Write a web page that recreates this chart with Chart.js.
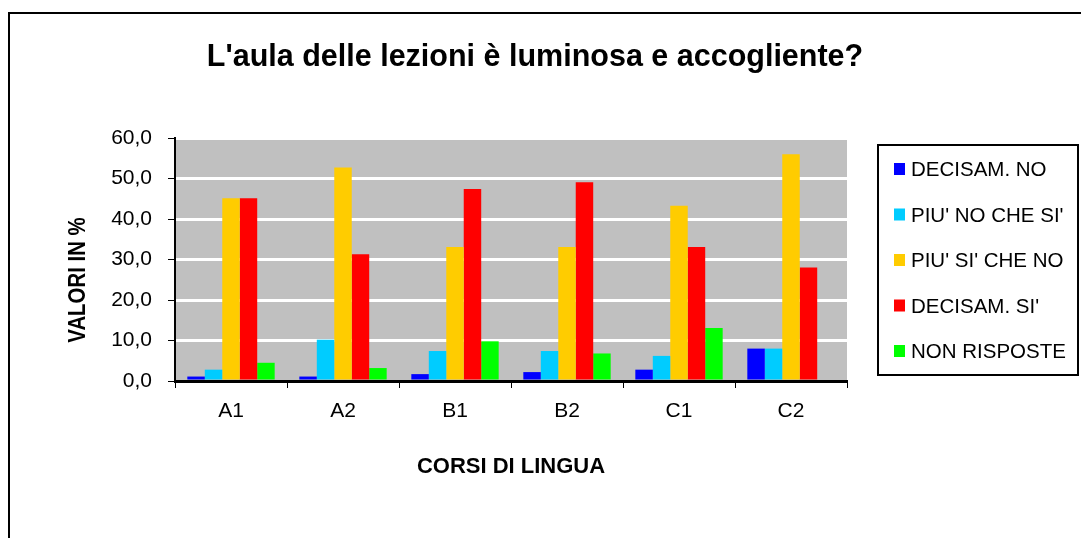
<!DOCTYPE html>
<html>
<head>
<meta charset="utf-8">
<script src="https://cdn.jsdelivr.net/npm/chart.js@4.4.0/dist/chart.umd.min.js"></script>
<style>
  html, body { margin: 0; padding: 0; background: #fff; }
  #wrap { width: 1081px; height: 538px; }
</style>
</head>
<body>
<div id="wrap"><canvas id="chart" width="1081" height="538"></canvas></div>
<script>
// data
const courses    = ['A1', 'A2', 'B1', 'B2', 'C1', 'C2'];
const decisamNo  = [1.1, 1.1, 1.7, 2.2, 2.8, 8.0];
const piuNoCheSi = [2.8, 10.2, 7.4, 7.4, 6.2, 8.0];
const piuSiCheNo = [45.1, 52.7, 33.1, 33.1, 43.3, 56.0];
const decisamSi  = [45.1, 31.3, 47.4, 49.1, 33.1, 28.0];
const nonRisp    = [4.5, 3.2, 9.8, 6.8, 13.1, 0];
const yTicks     = [0, 10, 20, 30, 40, 50, 60];

const FONT = "'Liberation Sans', Arial, sans-serif";

const series = [
  { label: 'DECISAM. NO',     data: decisamNo,  color: '#0000ff' },
  { label: "PIU' NO CHE SI'", data: piuNoCheSi, color: '#00ccff' },
  { label: "PIU' SI' CHE NO", data: piuSiCheNo, color: '#ffcc00' },
  { label: "DECISAM. SI'",    data: decisamSi,  color: '#ff0000' },
  { label: 'NON RISPOSTE',    data: nonRisp,    color: '#00ff00' },
];

// frame, grey plot, title, y title and boxed legend
const decor = {
  id: 'decor',
  beforeDraw(chart) {
    const { ctx, chartArea: a } = chart;
    ctx.save();
    ctx.fillStyle = '#fff';
    ctx.fillRect(0, 0, chart.width, chart.height);
    ctx.strokeStyle = '#000';
    ctx.lineWidth = 2;
    ctx.strokeRect(9, 13, 1200, 700);
    ctx.fillStyle = '#c0c0c0';
    ctx.fillRect(a.left, a.top, a.right - a.left, a.bottom - a.top);
    ctx.restore();
  },
  afterDraw(chart) {
    const { ctx } = chart;
    ctx.save();
    ctx.fillStyle = '#000';

    // title
    ctx.font = `bold 30.5px ${FONT}`;
    ctx.textBaseline = 'middle';
    ctx.textAlign = 'center';
    ctx.fillText("L'aula delle lezioni è luminosa e accogliente?", 535, 58);

    // y title
    ctx.save();
    ctx.translate(78, 280);
    ctx.rotate(-Math.PI / 2);
    ctx.scale(0.85, 1);
    ctx.font = `bold 24px ${FONT}`;
    ctx.fillText('VALORI IN %', 0, 0);
    ctx.restore();

    // legend
    ctx.strokeStyle = '#000';
    ctx.lineWidth = 2;
    ctx.strokeRect(878, 145, 200, 230);
    ctx.font = `20.5px ${FONT}`;
    ctx.textAlign = 'left';
    series.forEach((s, i) => {
      const y = 169.5 + i * 45.5;
      ctx.fillStyle = s.color;
      ctx.fillRect(894, y - 6.5, 11, 12);
      ctx.fillStyle = '#000';
      ctx.fillText(s.label, 911, y + 1);
    });
    ctx.restore();
  }
};

new Chart(document.getElementById('chart'), {
  type: 'bar',
  data: {
    labels: courses,
    datasets: series.map(s => ({
      label: s.label,
      data: s.data,
      backgroundColor: s.color,
      borderWidth: 0,
      barPercentage: 1,
      categoryPercentage: 0.78,
    }))
  },
  options: {
    responsive: false,
    animation: false,
    layout: { padding: { left: 0, top: 138, right: 234, bottom: 0 } },
    plugins: {
      legend: { display: false },
      title: { display: false },
      tooltip: { enabled: false }
    },
    scales: {
      x: {
        afterFit: s => { s.height = 157; },
        grid: { drawOnChartArea: false, color: '#000', tickColor: '#000', tickLength: 7, lineWidth: 1 },
        border: { color: '#000', width: 3 },
        ticks: { color: '#000', font: { family: FONT, size: 21 }, padding: 11 },
        title: {
          display: true,
          text: 'CORSI DI LINGUA',
          color: '#000',
          font: { family: FONT, size: 22, weight: 'bold' },
          padding: { top: 0, bottom: 58 }
        }
      },
      y: {
        min: 0,
        max: 60,
        afterFit: s => { s.width = 175; },
        afterBuildTicks: s => { s.ticks = yTicks.map(v => ({ value: v })); },
        grid: { color: '#fff', lineWidth: 3, tickColor: '#000', tickLength: 7, tickWidth: 1 },
        border: { color: '#000', width: 2 },
        ticks: {
          color: '#000',
          font: { family: FONT, size: 21 },
          padding: 16,
          callback: v => v.toFixed(1).replace('.', ',')
        }
      }
    }
  },
  plugins: [decor]
});
</script>
</body>
</html>
